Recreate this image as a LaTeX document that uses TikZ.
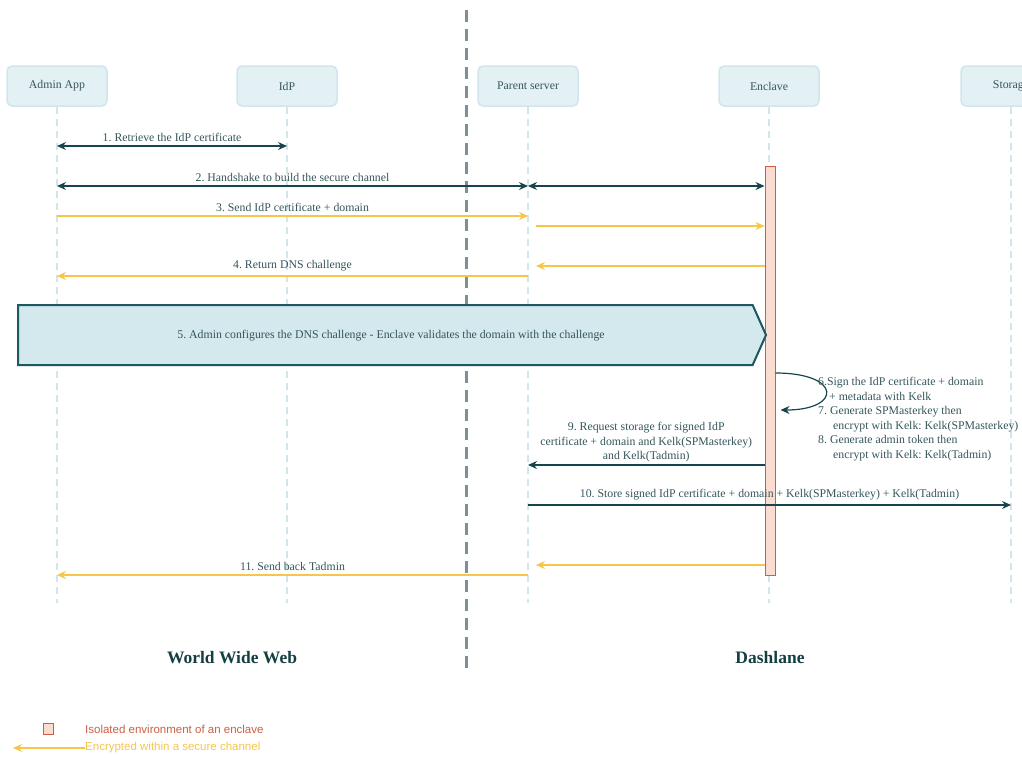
\documentclass[tikz,border=0pt]{standalone}
\usepackage{fontspec}
\setmainfont{Liberation Serif}
\newfontfamily\legendfont{Liberation Sans}
\usetikzlibrary{arrows.meta}
\usetikzlibrary{shapes.symbols}
\usetikzlibrary{positioning}
\frenchspacing
\definecolor{boxfill}{HTML}{E4F1F4}
\definecolor{boxline}{HTML}{D0E6EC}
\definecolor{lifeline}{HTML}{CFE6EC}
\definecolor{sepline}{HTML}{7D9195}
\definecolor{darkmsg}{HTML}{17454D}
\definecolor{encmsg}{HTML}{F7C548}
\definecolor{txt}{HTML}{34555B}
\definecolor{actfill}{HTML}{FADCD1}
\definecolor{actline}{HTML}{CC5F43}
\definecolor{bannerfill}{HTML}{D4E9EE}
\definecolor{bannerline}{HTML}{1D5962}
\definecolor{headtxt}{HTML}{153E44}
\newcommand{\lblfont}{\fontsize{11.8}{14.5}\selectfont}
\tikzset{actor/.style = {draw = boxline, fill = boxfill, rounded corners = 5,
                         line width = 1.5, minimum width = 100, minimum height = 40,
                         font = \lblfont, text = txt}}
\tikzset{life/.style = {draw = lifeline, line width = 2, dash pattern = on 7 off 5}}
\tikzset{sepdash/.style = {draw = sepline, line width = 3, dash pattern = on 12 off 7}}
\tikzset{dmsg/.style = {draw = darkmsg, line width = 1.2, -{Stealth[length=9, width=8]}}}
\tikzset{dboth/.style = {draw = darkmsg, line width = 1.2,
                         {Stealth[length=9, width=8]}-{Stealth[length=9, width=8]}}}
\tikzset{emsg/.style = {draw = encmsg, line width = 1.2, -{Stealth[length=9, width=8, inset=3]}}}
\tikzset{actbar/.style = {draw = actline, fill = actfill, line width = 1,
                          minimum width = 10, minimum height = 409, inner sep = 0}}
\tikzset{lbl/.style = {font = \lblfont, text = txt, inner sep = 2}}
\tikzset{head/.style = {font = \fontsize{17.5}{20}\selectfont\bfseries, text = headtxt}}

\begin{document}
\begin{tikzpicture}[x = 1pt, y = -1pt]
  \useasboundingbox (0, 0) rectangle (1022, 758);
  \clip (0, 0) rectangle (1022, 758);
  % world / dashlane border
  \draw [sepdash] (466, 10) -- (466, 668);
  % actors
  \node [actor] (admin) at (57, 86) {Admin App};
  \node [actor] (idp) at (287, 86) {IdP};
  \node [actor] (parent) at (528, 86) {Parent server};
  \node [actor] (enclave) at (769, 86) {Enclave};
  \node [actor] (storage) at (1011, 86) {Storage};
  \foreach \a in {admin, idp, parent, enclave, storage}
    \draw [life] (\a.south) -- (\a.south |- 0, 603);
  \node [actbar, anchor = north] (act) at (770, 166) {};
  % 1
  \draw [dboth] (admin |- 0, 146) -- (idp |- 0, 146)
    node [lbl, midway, above, inner sep = 4] {1. Retrieve the IdP certificate};
  % 2
  \draw [dboth] (admin |- 0, 186) -- (parent |- 0, 186)
    node [lbl, midway, above, inner sep = 4] {2. Handshake to build the secure channel};
  \draw [dboth] (parent |- 0, 186) -- (act.west |- 0, 186);
  % 3
  \draw [emsg] (admin |- 0, 216) -- (parent |- 0, 216)
    node [lbl, midway, above, inner sep = 4] {3. Send IdP certificate + domain};
  \draw [emsg] ([xshift = 8] parent |- 0, 226) -- (act.west |- 0, 226);
  % 4
  \draw [emsg] (act.west |- 0, 266) -- ([xshift = 8] parent |- 0, 266);
  \draw [emsg] (parent |- 0, 276) -- (admin |- 0, 276)
    node [lbl, midway, above, inner sep = 4] {4. Return DNS challenge};
  % 5
  \node [signal, signal to = east, signal pointer angle = 132, draw = bannerline,
         fill = bannerfill, line width = 2, minimum width = 748, minimum height = 60,
         inner sep = 0, anchor = west, lbl] (dns) at (17, 335) {};
  \node [lbl] at (391, 336) {5. Admin configures the DNS challenge - Enclave validates the domain with the challenge};
  % 6 - 8
  \coordinate (loop) at (act.east |- 0, 373);
  \draw [dmsg] (loop) .. controls (842, 373) and (842, 410) .. ([xshift = 5] act.east |- 0, 410);
  \node [lbl, align = left, anchor = north west, inner sep = 0] (sign) at (818, 377)
    {6.Sign the IdP certificate + domain\\
     \hspace*{11pt}+ metadata with Kelk\\
     7. Generate SPMasterkey then\\
     \hspace*{15pt}encrypt with Kelk: Kelk(SPMasterkey)\\
     8. Generate admin token then\\
     \hspace*{15pt}encrypt with Kelk: Kelk(Tadmin)};
  % 9
  \draw [dmsg] (act.west |- 0, 465) -- (parent |- 0, 465)
    node [lbl, midway, above, align = center] {9. Request storage for signed IdP\\
      certificate + domain and Kelk(SPMasterkey)\\ and Kelk(Tadmin)};
  % 10
  \draw [dmsg] (parent |- 0, 505) -- (storage |- 0, 505)
    node [lbl, midway, above, inner sep = 4] {10. Store signed IdP certificate + domain + Kelk(SPMasterkey) + Kelk(Tadmin)};
  % 11
  \draw [emsg] (act.west |- 0, 565) -- ([xshift = 8] parent |- 0, 565);
  \draw [emsg] (parent |- 0, 575) -- (admin |- 0, 575)
    node [lbl, midway, above, inner sep = 4] {11. Send back Tadmin};
  % zones
  \node [head] (www) at (232, 658) {World Wide Web};
  \node [head] (dash) at (770, 658) {Dashlane};
  % legend
  \node [draw = actline, fill = actfill, line width = 1, minimum width = 10,
         minimum height = 11, inner sep = 0] (legbox) at (48, 729) {};
  \node [anchor = west, inner sep = 0, text = actline,
         font = \legendfont\fontsize{11.5}{13}\selectfont] (legenc) at (85, 729)
    {Isolated environment of an enclave};
  \node [anchor = west, inner sep = 0, text = encmsg,
         font = \legendfont\fontsize{11.5}{13}\selectfont] (legsec) at (85, 748)
    {Encrypted within a secure channel};
  \draw [emsg] (legsec.west) -- ++(-72, 0);
\end{tikzpicture}
\end{document}
